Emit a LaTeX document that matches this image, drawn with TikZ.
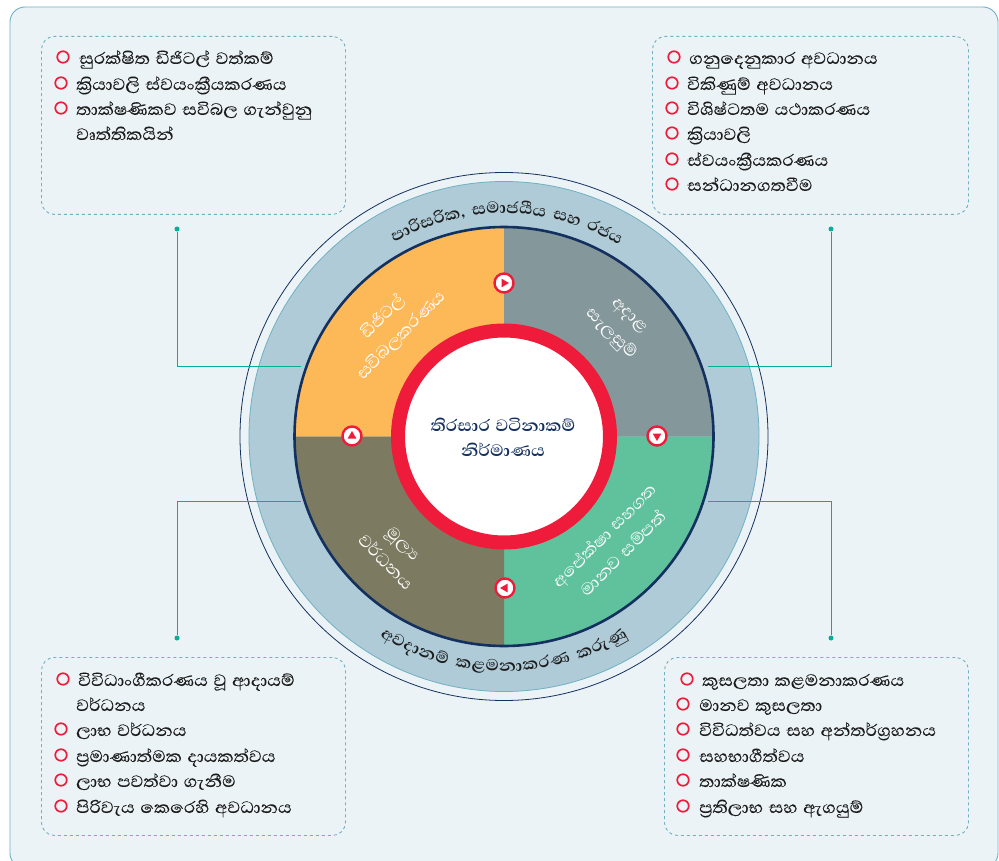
\documentclass[tikz,border=0pt]{standalone}
\usepackage{fontspec}
\usetikzlibrary{calc,shapes.geometric}
\newfontfamily\sifont[Script=Sinhala,FakeStretch=1.08,WordSpace=1.3]{Abhaya Libre}
\newfontfamily\sitext[Script=Sinhala,FakeStretch=1.08,WordSpace=1.3,FakeBold=0.1]{Abhaya Libre}
\definecolor{pagebg}{HTML}{EBF3F6}
\definecolor{frameb}{HTML}{6FB1C2}
\definecolor{ringc}{HTML}{AFCBD8}
\definecolor{navy}{HTML}{13305F}
\definecolor{redc}{HTML}{EE1C3A}
\definecolor{teal2}{HTML}{05AE99}
\definecolor{qor}{HTML}{FDB858}
\definecolor{qgr}{HTML}{84979A}
\definecolor{qgn}{HTML}{60C29C}
\definecolor{qol}{HTML}{7C7A60}
\definecolor{txt}{HTML}{1C1C1C}
\newlength\arcw \newlength\arcl \newlength\arcp
\newcommand\spc{\hspace*{7pt}}
% #1 radius (number), #2 tracking (pt), #3 list, #4 size, #5 1=top 0=bottom, #6 extra angle
\newcommand\arcmeasure[2]{\settowidth\arcw{\pgfinterruptpicture\fontsize{#2}{#2}\sifont\bfseries #1\endpgfinterruptpicture}}
\newcommand\arctext[6]{%
  \global\arcl=0pt
  \foreach \c in {#3}{\arcmeasure{\c}{#4}\global\advance\arcl by\dimexpr\arcw+#2pt\relax}%
  \global\arcp=0pt
  \foreach \c [count=\ci] in {#3}{%
    \arcmeasure{\c}{#4}%
    \pgfmathsetmacro\off{(\the\arcp+0.5*\the\arcw-0.5*\the\arcl)/#1*180/pi+#6}%
    \ifnum#5=1 \pgfmathsetmacro\ang{90-\off}\pgfmathsetmacro\rot{\ang-90}\else\pgfmathsetmacro\ang{-90+\off}\pgfmathsetmacro\rot{\ang+90}\fi
    \node[anchor=base,inner sep=0,text=txt,rotate=\rot,font=\fontsize{#4}{#4}\sifont\bfseries] (arc#5n\ci) at ($(c)+(\ang:#1pt)$) {\c};
    \global\advance\arcp by\dimexpr\arcw+#2pt\relax
  }%
}
\tikzset{
  x=1pt,y=-1pt,
  card/.style={draw=frameb,dashed,line width=0.9pt,rounded corners=13pt,anchor=north west,inner sep=0},
  li/.style={anchor=base west,inner sep=0,text=txt,font=\fontsize{21}{21}\sitext},
  bul/.style={circle,draw=redc,line width=1.7pt,minimum size=11.5pt,inner sep=0,fill=none},
  link/.style={draw=teal2,line width=0.9pt},
  dotn/.style={circle,fill=teal2,minimum size=5pt,inner sep=0},
  quad/.style={anchor=center,inner sep=0,align=center,text=white,font=\fontsize{21}{26}\sifont},
  marker/.style={circle,fill=white,draw=redc,line width=2.4pt,minimum size=19pt,inner sep=0},
  tri/.style={regular polygon,regular polygon sides=3,fill=redc,minimum size=10pt,inner sep=0},
}
\begin{document}
\begin{tikzpicture}
\useasboundingbox (0,0) rectangle (999,861);
\begin{scope}
\clip (0,0) rectangle (999,861);
\draw[draw=frameb,fill=pagebg,line width=0.9pt,rounded corners=15pt] (10,7) rectangle (998,868);
\end{scope}
\coordinate (c) at (504,436.5);
% rings
\draw[navy,line width=0.8pt] (c) circle[radius=264pt];
\draw[frameb,fill=ringc,line width=0.8pt] (c) circle[radius=255pt];
% quadrants
\fill[qor] (c) -- ($(c)+(90:209pt)$) arc[start angle=90,end angle=180,radius=209pt] -- cycle;
\fill[qgr] (c) -- ($(c)+(0:209pt)$) arc[start angle=0,end angle=90,radius=209pt] -- cycle;
\fill[qgn] (c) -- ($(c)+(-90:209pt)$) arc[start angle=-90,end angle=0,radius=209pt] -- cycle;
\fill[qol] (c) -- ($(c)+(180:209pt)$) arc[start angle=180,end angle=270,radius=209pt] -- cycle;
\draw[navy,line width=2.6pt] (c) circle[radius=209.5pt];
\draw[redc,fill=white,line width=14pt] (c) circle[radius=106pt];
% centre
\node[anchor=center,inner sep=0,align=center,text=navy,font=\fontsize{21}{25}\sifont\bfseries] (centre) at (503,437) {තිරසාර වටිනාකම්\\නිර්මාණය};
% quadrant labels
\node[quad,rotate=45] (qa) at (392,326) {ඩිජිටල්\\සවිබලකරණය};
\node[quad,rotate=-45] (qb) at (619,326) {අදාළ\\සැලසුම්};
\node[quad,rotate=45] (qc) at (613,544) {අපේක්ෂා සහගත\\මානව සම්පත්};
\node[quad,rotate=-45] (qd) at (395,553) {මූල්‍ය\\වර්ධනය};
% markers
\node[marker] (m1) at (504,283) {};
\node[tri,shape border rotate=-90] (t1) at (m1) {};
\node[marker] (m2) at (657,436) {};
\node[tri,shape border rotate=180] (t2) at (m2) {};
\node[marker] (m3) at (505,588) {};
\node[tri,shape border rotate=90] (t3) at (m3) {};
\node[marker] (m4) at (352,436) {};
\node[tri] (t4) at (m4) {};
% curved labels
\arctext{223}{0}{පා,රි,ස,රි,ක,{,},\spc,ස,මා,ජ,යී,ය,\spc,ස,හ,\spc,ර,ජ,ය}{20.5}{1}{0.8}
\arctext{235}{0.6}{අ,ව,දා,න,ම්,\spc,ක,ළ,ම,නා,ක,ර,ණ,\spc,ක,රු,ණු}{20.5}{0}{0}
% cards
\node[card,minimum width=304pt,minimum height=178pt] (ca) at (41,36) {};
\node[card,minimum width=316pt,minimum height=178pt] (cb) at (652,36) {};
\node[card,minimum width=304pt,minimum height=178pt] (cc) at (41,657) {};
\node[card,minimum width=304pt,minimum height=178pt] (cd) at (664,657) {};
% connectors
\node[dotn] (da) at (177,229) {};
\node[dotn] (db) at (831,229) {};
\node[dotn] (dc) at (177,638) {};
\node[dotn] (dd) at (831,638) {};
\coordinate (ea) at (301,366);
\coordinate (eb) at (708,366);
\coordinate (ec) at (301,501);
\coordinate (ed) at (708,501);
\draw[link] (da) |- (ea);
\draw[link] (db) |- (eb);
\draw[link] (dc) |- (ec);
\draw[link] (dd) |- (ed);
% TL
\node[bul] (a1) at (63,57) {}; \node[li] (ta1) at (79,64) {සුරක්ෂිත ඩිජිටල් වත්කම්};
\node[bul] (a2) at (61,83) {}; \node[li] (ta2) at (76,90) {ක්‍රියාවලි ස්වයංක්‍රීයකරණය};
\node[bul] (a3) at (61,108) {}; \node[li] (ta3) at (76,115) {තාක්ෂණිකව සවිබල ගැන්වුනු};
\node[li] (ta4) at (76,140) {වෘත්තිකයින්};
% TR
\node[bul] (b1) at (674,57) {}; \node[li] (tb1) at (689,64) {ගනුදෙනුකාර අවධානය};
\node[bul] (b2) at (672,83) {}; \node[li] (tb2) at (687,90) {විකිණුම් අවධානය};
\node[bul] (b3) at (672,108) {}; \node[li] (tb3) at (687,115) {විශිෂ්ටතම යථාකරණය};
\node[bul] (b4) at (672,133) {}; \node[li] (tb4) at (687,140) {ක්‍රියාවලි};
\node[bul] (b5) at (672,159) {}; \node[li] (tb5) at (687,166) {ස්වයංක්‍රීයකරණය};
\node[bul] (b6) at (672,184) {}; \node[li] (tb6) at (687,191) {සන්ධානගතවීම};
% BL
\node[bul] (c1) at (63,679) {}; \node[li] (tc1) at (78,686) {විවිධාංගීකරණය වූ ආදායම්};
\node[li] (tc2) at (76,711) {වර්ධනය};
\node[bul] (c3) at (61,729) {}; \node[li] (tc3) at (76,736) {ලාභ වර්ධනය};
\node[bul] (c4) at (61,755) {}; \node[li] (tc4) at (76,762) {ප්‍රමාණාත්මක දායකත්වය};
\node[bul] (c5) at (61,780) {}; \node[li] (tc5) at (76,787) {ලාභ පවත්වා ගැනීම};
\node[bul] (c6) at (61,806) {}; \node[li] (tc6) at (76,813) {පිරිවැය කෙරෙහි අවධානය};
% BR
\node[bul] (d1) at (687,679) {}; \node[li] (td1) at (702,686) {කුසලතා කළමනාකරණය};
\node[bul] (d2) at (683,704) {}; \node[li] (td2) at (699,711) {මානව කුසලතා};
\node[bul] (d3) at (683,729) {}; \node[li] (td3) at (699,736) {විවිධත්වය සහ අන්තර්ග්‍රහනය};
\node[bul] (d4) at (683,755) {}; \node[li] (td4) at (699,762) {සහභාගීත්වය};
\node[bul] (d5) at (683,780) {}; \node[li] (td5) at (699,787) {තාක්ෂණික};
\node[bul] (d6) at (683,806) {}; \node[li] (td6) at (699,813) {ප්‍රතිලාභ සහ ඇගයුම්};
\end{tikzpicture}
\end{document}
